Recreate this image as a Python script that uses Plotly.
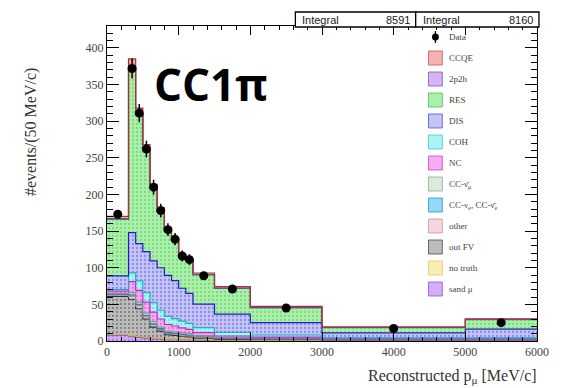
import numpy as np
import plotly.graph_objects as go

# Reconstructed muon momentum binning [MeV/c]
bin_edges = [0, 300, 400, 500, 600, 700, 800, 900, 1000, 1100, 1200, 1500, 2000, 3000, 5000, 6000]

# Data (events / 50 MeV/c) and uncertainties
data_counts = [173, 372, 311, 262, 210, 178, 152, 139, 116, 111, 89, 71, 45, 17, 25]
data_errors = [5.4, 13.6, 12.5, 11.4, 10.2, 9.4, 8.7, 8.3, 7.6, 7.4, 3.9, 2.6, 1.5, 0.7, 1.1]

# Simulated contributions (events / 50 MeV/c), listed bottom of stack first
sand_mu    = [8, 6, 5, 4, 3, 3, 2, 2, 2, 2, 1.5, 1, 1, 1, 1]
no_truth   = [1, 1, 1, 1, 1, 0.5, 0.5, 0.5, 0.5, 0.5, 0.3, 0.3, 0.2, 0.1, 0.1]
out_fv     = [52, 50, 38, 25, 15, 10, 6, 5, 4, 3, 2, 1, 1, 0.5, 0.5]
other      = [2, 4, 4, 3, 3, 2, 2, 2, 1.5, 1.5, 1, 1, 0.5, 0.3, 0.3]
cc_nue     = [1, 2, 2, 2, 1.5, 1.5, 1, 1, 1, 1, 1, 0.5, 0.5, 0.3, 0.3]
cc_numubar = [1, 3, 3, 3, 3, 2, 2, 2, 2, 2, 1.5, 1, 1, 0.5, 0.5]
nc         = [3, 15, 16, 15, 13, 11, 9, 8, 7, 6, 4, 2, 1, 0.5, 0.5]
coh        = [2, 12, 13, 13, 13, 12, 11, 10, 9, 8, 7, 5, 3, 1, 1]
dis        = [19, 55, 51, 56, 57, 58, 56, 52, 45, 41, 32, 25, 17, 7, 12]
res        = [77, 222, 175, 138, 98, 77, 61, 54, 43, 44, 40, 35, 20, 7, 13]
two_p2h    = [1, 3, 2, 2, 1.5, 1, 1, 1, 1, 1, 0.5, 0.5, 0.5, 0.2, 0.2]
ccqe       = [3, 12, 8, 6, 5, 4, 3, 3, 2, 2, 2, 2, 1.5, 1, 1]

integral_labels = ["Integral", "Integral"]
integral_values = ["8591", "8160"]

# (name, values, fill, dot colour, outline colour), bottom to top
components = [
    ("sand μ", sand_mu, "#d4acf8", "#9050e0", "#8040d0"),
    ("no truth", no_truth, "#f8eeb4", "#e0c860", "#d0b040"),
    ("out FV", out_fv, "#bcbcbc", "#4a4a4a", "#303030"),
    ("other", other, "#f4d6de", "#d090a0", "#c08090"),
    ("CC-ν<sub>e</sub>, CC-ν̄<sub>e</sub>", cc_nue, "#94daf8", "#3090d0", "#2080c0"),
    ("CC-ν̄<sub>μ</sub>", cc_numubar, "#dde9dd", "#90a890", "#809880"),
    ("NC", nc, "#f4acf4", "#d040d0", "#d020d0"),
    ("COH", coh, "#acf4f4", "#40c8d0", "#20b0c0"),
    ("DIS", dis, "#c4c4f6", "#5050e0", "#2020c0"),
    ("RES", res, "#aaf0aa", "#50c050", "#30a030"),
    ("2p2h", two_p2h, "#d4b4f2", "#8050c0", "#7040b0"),
    ("CCQE", ccqe, "#f4b2b2", "#d05050", "#b03030"),
]

edges = np.array(bin_edges, dtype=float)
centers = 0.5 * (edges[:-1] + edges[1:])

fig = go.Figure()

running = np.zeros(len(centers))
for i, (name, vals, fill, dots, line) in enumerate(components):
    running = running + np.array(vals, dtype=float)
    ys = np.append(running, running[-1])
    fig.add_trace(go.Scatter(
        x=edges, y=ys, mode="lines", name=name,
        line=dict(shape="hv", color=line, width=1.2),
        fill="tozeroy" if i == 0 else "tonexty",
        fillcolor=fill,
        fillpattern=dict(shape=".", fgcolor=dots, bgcolor=fill, size=4, solidity=0.25),
        showlegend=False, hoverinfo="skip",
    ))

fig.add_trace(go.Scatter(
    x=centers, y=data_counts, mode="markers", name="Data",
    marker=dict(color="black", size=9),
    error_y=dict(type="data", array=data_errors, color="black", thickness=1.5, width=0),
    showlegend=False,
))

# geometry of the plotting frame in pixels
W, H = 561, 388
L, R, T, B = 107, 18, 26, 47
PW, PH = W - L - R, H - T - B


def px(x):
    return (x - L) / PW


def py(y):
    return (H - B - y) / PH


shapes = []
annotations = []

# Integral boxes above the frame
box_edges = [298, 420, 545]
for k in range(2):
    shapes.append(dict(type="rect", xref="paper", yref="paper",
                       x0=px(box_edges[k]), x1=px(box_edges[k + 1]),
                       y0=py(27), y1=py(12),
                       line=dict(color="black", width=1.3), fillcolor="white"))
    annotations.append(dict(xref="paper", yref="paper", x=px(box_edges[k] + 5), y=py(19.5),
                            text=integral_labels[k], showarrow=False, xanchor="left", yanchor="middle",
                            font=dict(family="Liberation Sans", size=11, color="#222")))
    annotations.append(dict(xref="paper", yref="paper", x=px(box_edges[k + 1] - 4), y=py(19.5),
                            text=integral_values[k], showarrow=False, xanchor="right", yanchor="middle",
                            font=dict(family="Liberation Sans", size=11, color="#222")))

# Legend drawn inside the frame
leg_x0, leg_x1 = 433, 447
leg_text_x = 452
leg_y0, leg_dy = 37, 21
leg_font = dict(family="Liberation Serif", size=9, color="#444")

# Data entry
shapes.append(dict(type="line", xref="paper", yref="paper", x0=px(440), x1=px(440),
                   y0=py(31), y1=py(43), line=dict(color="black", width=1.3)))
shapes.append(dict(type="circle", xref="paper", yref="paper", x0=px(436.5), x1=px(443.5),
                   y0=py(40.5), y1=py(33.5), fillcolor="black", line=dict(color="black", width=0)))
annotations.append(dict(xref="paper", yref="paper", x=px(leg_text_x), y=py(leg_y0),
                        text="Data", showarrow=False, xanchor="left", yanchor="middle", font=leg_font))

for j, (name, vals, fill, dots, line) in enumerate(reversed(components)):
    yc = leg_y0 + leg_dy * (j + 1)
    shapes.append(dict(type="rect", xref="paper", yref="paper",
                       x0=px(leg_x0), x1=px(leg_x1), y0=py(yc + 7), y1=py(yc - 7),
                       fillcolor=fill, line=dict(color=dots, width=0.8)))
    annotations.append(dict(xref="paper", yref="paper", x=px(leg_text_x), y=py(yc),
                            text=name, showarrow=False, xanchor="left", yanchor="middle", font=leg_font))

# Sample label
annotations.append(dict(xref="paper", yref="paper", x=px(212), y=py(84),
                        text="<b>CC1π</b>", showarrow=False, xanchor="center", yanchor="middle",
                        font=dict(family="Open Sans", size=44, color="black")))

# Axis titles
annotations.append(dict(xref="paper", yref="paper", x=px(545), y=py(376),
                        text="Reconstructed p<sub>μ</sub> [MeV/c]", showarrow=False,
                        xanchor="right", yanchor="middle",
                        font=dict(family="Liberation Serif", size=16, color="#333")))
annotations.append(dict(xref="paper", yref="paper", x=px(30), y=py(132),
                        text="#events/(50 MeV/c)", showarrow=False, textangle=-90,
                        xanchor="center", yanchor="middle",
                        font=dict(family="Liberation Serif", size=16, color="#333")))

tick_font = dict(family="Liberation Serif", size=12, color="#444")

fig.update_layout(
    width=W, height=H,
    margin=dict(l=L, r=R, t=T, b=B),
    paper_bgcolor="white", plot_bgcolor="white",
    showlegend=False,
    shapes=shapes, annotations=annotations,
    xaxis=dict(range=[0, 6000], dtick=1000, tick0=0, ticks="inside", ticklen=9, tickwidth=1,
               tickcolor="black", showgrid=False, zeroline=False, showline=True, linecolor="black",
               linewidth=1, mirror="allticks", tickfont=tick_font,
               minor=dict(dtick=200, ticks="inside", ticklen=4, tickcolor="black", showgrid=False)),
    yaxis=dict(range=[0, 430], dtick=50, tick0=0, ticks="inside", ticklen=12, tickwidth=1,
               tickcolor="black", showgrid=False, zeroline=False, showline=True, linecolor="black",
               linewidth=1, mirror="allticks", tickfont=tick_font,
               minor=dict(dtick=10, ticks="inside", ticklen=6, tickcolor="black", showgrid=False)),
)

fig.write_html("out.html")
